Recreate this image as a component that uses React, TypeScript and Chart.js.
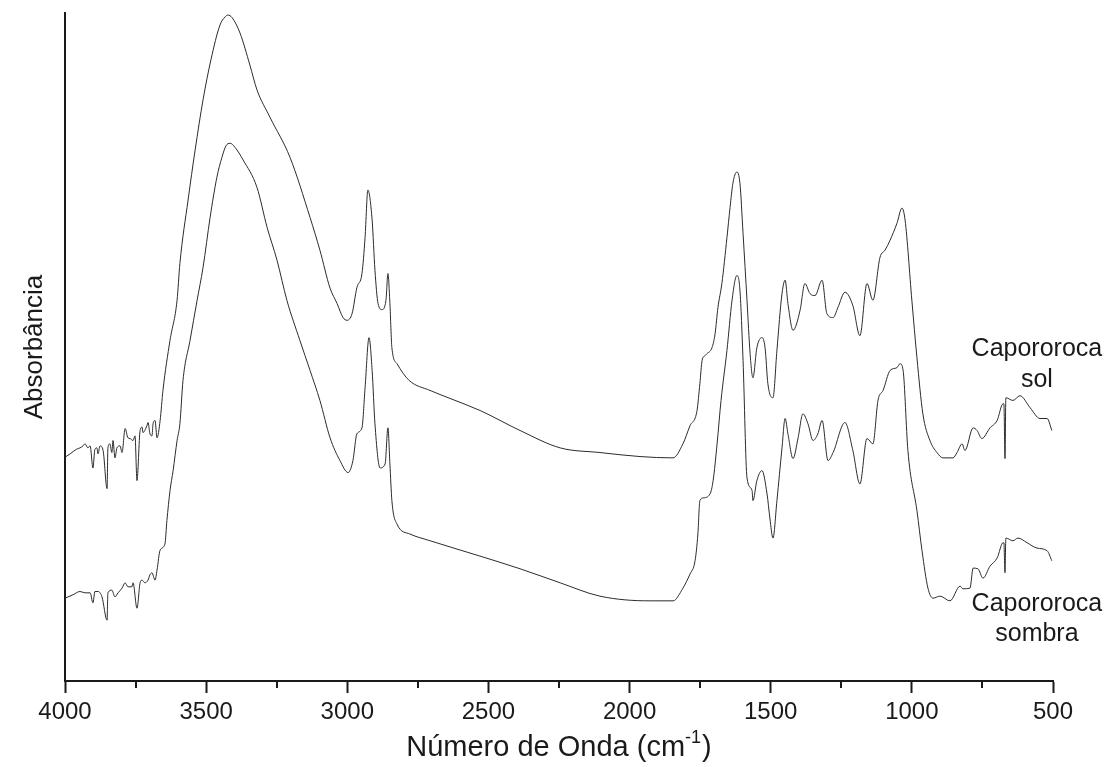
import React, { useEffect, useRef } from "react";
import { Chart, registerables } from "chart.js";

Chart.register(...registerables);

// ---- Data (wavenumber in cm-1, absorbance in a.u.) ----
const solWavenumber = [
  4000, 3982, 3959, 3947, 3936, 3929, 3919, 3911, 3901, 3894, 3887, 3883, 3876, 3865, 3851, 3848,
  3841, 3834, 3830, 3823, 3816, 3805, 3798, 3787, 3777, 3770, 3759, 3752, 3745, 3734, 3727, 3724,
  3710, 3706, 3699, 3692, 3688, 3681, 3674, 3663, 3653, 3628, 3603, 3593, 3564, 3539, 3511, 3483,
  3451, 3433, 3423, 3408, 3380, 3345, 3320, 3274, 3203, 3132, 3097, 3061, 3036, 3015, 3001, 2983,
  2966, 2948, 2937, 2927, 2912, 2902, 2891, 2877, 2863, 2856, 2849, 2842, 2824, 2781, 2707, 2636,
  2530, 2388, 2246, 2105, 1963, 1846, 1811, 1786, 1761, 1751, 1743, 1733, 1726, 1708, 1697, 1687,
  1673, 1655, 1644, 1634, 1620, 1609, 1598, 1584, 1573, 1563, 1549, 1531, 1520, 1510, 1492, 1478,
  1460, 1449, 1439, 1421, 1396, 1379, 1361, 1343, 1318, 1301, 1279, 1262, 1237, 1209, 1184, 1159,
  1138, 1113, 1095, 1077, 1053, 1035, 1024, 1000, 982, 961, 936, 911, 890, 854, 840, 822,
  812, 783, 769, 752, 723, 698, 677, 674, 670, 667, 642, 617, 581, 546, 521, 504,
];
const solAbsorbance = [
  0.335, 0.34, 0.347, 0.349, 0.352, 0.355, 0.349, 0.352, 0.319, 0.347, 0.349, 0.34, 0.352, 0.345, 0.288, 0.349,
  0.355, 0.342, 0.36, 0.334, 0.349, 0.352, 0.342, 0.378, 0.364, 0.363, 0.36, 0.367, 0.3, 0.375, 0.38, 0.372,
  0.382, 0.387, 0.37, 0.367, 0.385, 0.39, 0.364, 0.39, 0.435, 0.51, 0.57, 0.625, 0.72, 0.795, 0.87, 0.93,
  0.982, 0.994, 0.997, 0.993, 0.97, 0.922, 0.885, 0.844, 0.784, 0.694, 0.645, 0.588, 0.565, 0.544, 0.54, 0.55,
  0.589, 0.61, 0.664, 0.735, 0.69, 0.615, 0.565, 0.556, 0.57, 0.61, 0.565, 0.499, 0.475, 0.45, 0.435, 0.423,
  0.405, 0.375, 0.349, 0.342, 0.336, 0.334, 0.355, 0.382, 0.405, 0.445, 0.48, 0.487, 0.49, 0.499, 0.52, 0.559,
  0.595, 0.664, 0.709, 0.745, 0.762, 0.745, 0.67, 0.57, 0.49, 0.454, 0.499, 0.514, 0.499, 0.445, 0.424, 0.495,
  0.58, 0.6, 0.565, 0.525, 0.555, 0.595, 0.58, 0.577, 0.6, 0.55, 0.544, 0.559, 0.582, 0.562, 0.517, 0.595,
  0.57, 0.634, 0.645, 0.66, 0.685, 0.708, 0.69, 0.57, 0.484, 0.4, 0.36, 0.342, 0.334, 0.334, 0.342, 0.355,
  0.345, 0.379, 0.375, 0.363, 0.379, 0.39, 0.415, 0.415, 0.333, 0.424, 0.42, 0.427, 0.409, 0.393, 0.393, 0.375,
];

const sombraWavenumber = [
  4000, 3972, 3947, 3929, 3911, 3901, 3894, 3883, 3869, 3851, 3848, 3834, 3823, 3812, 3798, 3787,
  3777, 3763, 3759, 3745, 3734, 3727, 3717, 3706, 3699, 3692, 3681, 3674, 3663, 3646, 3639, 3628,
  3617, 3603, 3593, 3582, 3557, 3532, 3511, 3486, 3462, 3444, 3430, 3415, 3398, 3369, 3320, 3284,
  3249, 3214, 3168, 3132, 3097, 3061, 3026, 2997, 2980, 2966, 2948, 2937, 2923, 2912, 2902, 2884,
  2866, 2856, 2849, 2842, 2824, 2778, 2707, 2530, 2388, 2246, 2105, 1928, 1846, 1811, 1786, 1768,
  1758, 1751, 1740, 1715, 1704, 1690, 1676, 1655, 1637, 1620, 1609, 1598, 1584, 1566, 1563, 1549,
  1531, 1513, 1503, 1492, 1478, 1460, 1449, 1439, 1421, 1403, 1386, 1368, 1350, 1333, 1318, 1297,
  1279, 1237, 1209, 1184, 1159, 1138, 1120, 1102, 1077, 1053, 1042, 1031, 1014, 982, 964, 943,
  925, 900, 865, 829, 819, 794, 783, 766, 748, 723, 698, 677, 674, 670, 667, 642,
  624, 592, 557, 521, 504,
];
const sombraAbsorbance = [
  0.124, 0.129, 0.134, 0.132, 0.132, 0.117, 0.134, 0.134, 0.126, 0.091, 0.132, 0.136, 0.126, 0.132, 0.139, 0.147,
  0.141, 0.141, 0.147, 0.109, 0.147, 0.151, 0.147, 0.151, 0.159, 0.162, 0.151, 0.166, 0.196, 0.205, 0.24, 0.285,
  0.315, 0.36, 0.385, 0.45, 0.51, 0.57, 0.619, 0.694, 0.754, 0.784, 0.801, 0.805, 0.799, 0.78, 0.739, 0.679,
  0.63, 0.57, 0.51, 0.465, 0.42, 0.364, 0.33, 0.312, 0.33, 0.37, 0.379, 0.439, 0.514, 0.465, 0.385, 0.319,
  0.325, 0.379, 0.325, 0.27, 0.235, 0.22, 0.21, 0.187, 0.168, 0.147, 0.127, 0.12, 0.12, 0.139, 0.16, 0.18,
  0.22, 0.27, 0.274, 0.28, 0.3, 0.355, 0.42, 0.495, 0.57, 0.607, 0.585, 0.48, 0.304, 0.285, 0.27, 0.3,
  0.315, 0.28, 0.244, 0.214, 0.27, 0.349, 0.393, 0.37, 0.333, 0.364, 0.4, 0.385, 0.36, 0.37, 0.39, 0.33,
  0.342, 0.387, 0.345, 0.295, 0.363, 0.355, 0.42, 0.435, 0.465, 0.469, 0.475, 0.465, 0.345, 0.255, 0.195, 0.139,
  0.124, 0.127, 0.12, 0.142, 0.138, 0.139, 0.169, 0.168, 0.154, 0.172, 0.184, 0.207, 0.207, 0.162, 0.214, 0.21,
  0.214, 0.207, 0.199, 0.195, 0.18,
];

const majorTicks = [4000, 3500, 3000, 2500, 2000, 1500, 1000, 500];
const minorTicks = [3750, 3250, 2750, 2250, 1750, 1250, 750];
const seriesNames = ["Capororoca sol", "Capororoca sombra"];
const xTitleMain = "Número de Onda (cm";
const xTitleSup = "-1";
const xTitleEnd = ")";
const yTitle = "Absorbância";

// Text labels placed next to each spectrum (anchored in data coordinates)
const curveLabels = [
  { lines: ["Capororoca", "sol"], x: 557, y: [0.497, 0.451] },
  { lines: ["Capororoca", "sombra"], x: 557, y: [0.115, 0.07] },
];

const FONT = "'Liberation Sans', Arial, Helvetica, sans-serif";
const INK = "#1a1a1a";

function toPoints(xs: number[], ys: number[]) {
  return xs.map((x, i) => ({ x, y: ys[i] }));
}

const extrasPlugin = {
  id: "extras",
  afterDraw(chart: any) {
    const ctx = chart.ctx;
    const xs = chart.scales.x;
    const ys = chart.scales.y;
    const area = chart.chartArea;
    ctx.save();
    // minor ticks
    ctx.strokeStyle = INK;
    ctx.lineWidth = 2;
    minorTicks.forEach((v) => {
      const px = Math.round(xs.getPixelForValue(v));
      ctx.beginPath();
      ctx.moveTo(px, area.bottom);
      ctx.lineTo(px, area.bottom + 7);
      ctx.stroke();
    });
    // curve labels
    ctx.fillStyle = INK;
    ctx.font = `25px ${FONT}`;
    ctx.textAlign = "center";
    ctx.textBaseline = "middle";
    curveLabels.forEach((lab) => {
      const px = xs.getPixelForValue(lab.x);
      lab.lines.forEach((t, i) => {
        ctx.fillText(t, px, ys.getPixelForValue(lab.y[i]));
      });
    });
    // x axis title with superscript
    ctx.textBaseline = "alphabetic";
    ctx.textAlign = "left";
    const mainFont = `29px ${FONT}`;
    const supFont = `18px ${FONT}`;
    ctx.font = mainFont;
    const w1 = ctx.measureText(xTitleMain).width;
    const w3 = ctx.measureText(xTitleEnd).width;
    ctx.font = supFont;
    const w2 = ctx.measureText(xTitleSup).width;
    const total = w1 + w2 + w3 + 1;
    const cx = (area.left + area.right) / 2;
    const baseY = 756;
    let x0 = cx - total / 2;
    ctx.font = mainFont;
    ctx.fillText(xTitleMain, x0, baseY);
    x0 += w1;
    ctx.font = supFont;
    ctx.fillText(xTitleSup, x0, baseY - 13);
    x0 += w2 + 1;
    ctx.font = mainFont;
    ctx.fillText(xTitleEnd, x0, baseY);
    ctx.restore();
  },
};

export default function App() {
  const canvasRef = useRef<HTMLCanvasElement | null>(null);

  useEffect(() => {
    if (!canvasRef.current) return;
    const chart = new Chart(canvasRef.current, {
      type: "line",
      data: {
        datasets: [
          {
            label: seriesNames[0],
            data: toPoints(solWavenumber, solAbsorbance),
            borderColor: "#2b2b2b",
            borderWidth: 1,
            pointRadius: 0,
            cubicInterpolationMode: "monotone",
            fill: false,
          },
          {
            label: seriesNames[1],
            data: toPoints(sombraWavenumber, sombraAbsorbance),
            borderColor: "#2b2b2b",
            borderWidth: 1,
            pointRadius: 0,
            cubicInterpolationMode: "monotone",
            fill: false,
          },
        ],
      },
      options: {
        animation: false,
        responsive: true,
        maintainAspectRatio: false,
        layout: { padding: { left: 0, top: 13, right: 53, bottom: 0 } },
        plugins: {
          legend: { display: false },
          tooltip: { enabled: false },
          title: { display: false },
        },
        scales: {
          x: {
            type: "linear",
            reverse: true,
            min: 500,
            max: 4000,
            afterBuildTicks: (scale: any) => {
              scale.ticks = majorTicks.map((v) => ({ value: v }));
            },
            afterFit: (scale: any) => {
              scale.height = 86;
            },
            grid: {
              display: true,
              drawOnChartArea: false,
              drawTicks: true,
              tickLength: 12,
              tickWidth: 2,
              tickColor: INK,
            },
            border: { display: true, color: INK, width: 2 },
            ticks: {
              color: INK,
              font: { family: FONT, size: 24 },
              padding: 5,
              maxRotation: 0,
              autoSkip: false,
              callback: (v: any) => String(v),
            },
            title: { display: false },
          },
          y: {
            type: "linear",
            min: 0,
            max: 1,
            afterFit: (scale: any) => {
              scale.width = 65;
            },
            grid: { display: false },
            border: { display: true, color: INK, width: 2 },
            ticks: { display: false },
            title: {
              display: true,
              text: yTitle,
              color: INK,
              font: { family: FONT, size: 26 },
              padding: { top: 19, bottom: 0 },
            },
          },
        },
      },
      plugins: [extrasPlugin],
    });
    return () => chart.destroy();
  }, []);

  return (
    <div style={{ position: "fixed", left: 0, top: 0, width: 1106, height: 767, background: "#fff" }}>
      <canvas ref={canvasRef} />
    </div>
  );
}
